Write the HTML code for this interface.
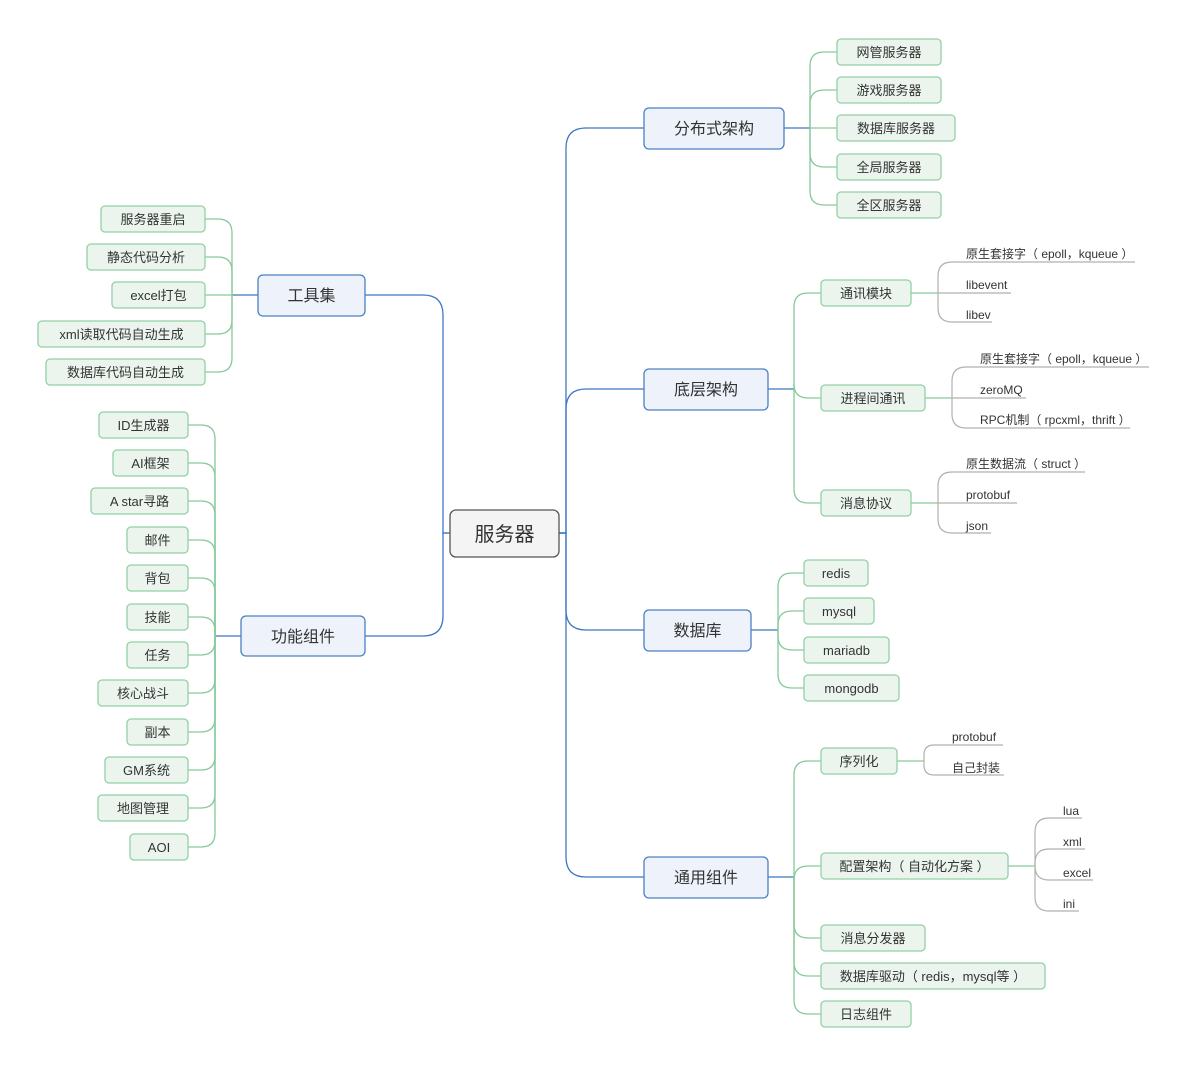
<!DOCTYPE html>
<html><head><meta charset="utf-8"><style>
html,body{margin:0;padding:0;background:#fff;}
svg{display:block;}
text{font-family:"Liberation Sans","Noto Sans CJK SC",sans-serif;fill:#333;}
.b{fill:none;stroke:#3d78bf;stroke-width:1.3;}
.g{fill:none;stroke:#86c99a;stroke-width:1.3;}
.y{fill:none;stroke:#b0b0b0;stroke-width:1.2;}
.mn{fill:#eef3fb;stroke:#4b80c2;stroke-width:1.3;}
.lf{fill:#ebf5ee;stroke:#93d0a4;stroke-width:1.3;}
.m{font-size:16px;text-anchor:middle;}
.l{font-size:13px;text-anchor:middle;}
.s{font-size:12px;}
</style></head><body>
<svg width="1187" height="1065" viewBox="0 0 1187 1065" xmlns="http://www.w3.org/2000/svg">
<!-- trunk -->
<path class="b" d="M559 533 H566 V148 Q566 128 586 128 H644"/>
<path class="b" d="M559 533 H566 V409 Q566 389 586 389 H644"/>
<path class="b" d="M559 533 H566 V610 Q566 630 586 630 H644"/>
<path class="b" d="M559 533 H566 V857 Q566 877 586 877 H644"/>
<path class="b" d="M450 533 H443 V315 Q443 295 423 295 H365"/>
<path class="b" d="M450 533 H443 V616 Q443 636 423 636 H365"/>
<!-- 分布式 -->
<path class="b" d="M784 128 H810"/>
<path class="g" d="M810 128 V66 Q810 52 824 52 H837"/>
<path class="g" d="M810 128 V104 Q810 90 824 90 H837"/>
<path class="g" d="M810 128 H837"/>
<path class="g" d="M810 128 V153 Q810 167 824 167 H837"/>
<path class="g" d="M810 128 V191 Q810 205 824 205 H837"/>
<!-- 底层 -->
<path class="b" d="M768 389 H794"/>
<path class="g" d="M794 389 V307 Q794 293 808 293 H821"/>
<path class="g" d="M794 389 V384 Q794 398 808 398 H821"/>
<path class="g" d="M794 389 V489 Q794 503 808 503 H821"/>
<!-- 数据库 -->
<path class="b" d="M751 630 H778"/>
<path class="g" d="M778 630 V587 Q778 573 792 573 H804"/>
<path class="g" d="M778 630 V625 Q778 611 792 611 H804"/>
<path class="g" d="M778 630 V636 Q778 650 792 650 H804"/>
<path class="g" d="M778 630 V674 Q778 688 792 688 H804"/>
<!-- 通用 -->
<path class="b" d="M768 877 H794"/>
<path class="g" d="M794 877 V775 Q794 761 808 761 H821"/>
<path class="g" d="M794 877 V880 Q794 866 808 866 H821"/>
<path class="g" d="M794 877 V924 Q794 938 808 938 H821"/>
<path class="g" d="M794 877 V962 Q794 976 808 976 H821"/>
<path class="g" d="M794 877 V1000 Q794 1014 808 1014 H821"/>
<!-- 工具集 -->
<path class="b" d="M258 295 H232"/>
<path class="g" d="M232 295 V233 Q232 219 218 219 H205"/>
<path class="g" d="M232 295 V271 Q232 257 218 257 H205"/>
<path class="g" d="M232 295 H205"/>
<path class="g" d="M232 295 V320 Q232 334 218 334 H205"/>
<path class="g" d="M232 295 V358 Q232 372 218 372 H205"/>
<!-- 功能组件 -->
<path class="b" d="M241 636 H215"/>
<path class="g" d="M215 636 V439 Q215 425 201 425 H188"/>
<path class="g" d="M215 636 V477 Q215 463 201 463 H188"/>
<path class="g" d="M215 636 V515 Q215 501 201 501 H188"/>
<path class="g" d="M215 636 V554 Q215 540 201 540 H188"/>
<path class="g" d="M215 636 V592 Q215 578 201 578 H188"/>
<path class="g" d="M215 636 V631 Q215 617 201 617 H188"/>
<path class="g" d="M215 636 V641 Q215 655 201 655 H188"/>
<path class="g" d="M215 636 V679 Q215 693 201 693 H188"/>
<path class="g" d="M215 636 V718 Q215 732 201 732 H188"/>
<path class="g" d="M215 636 V756 Q215 770 201 770 H188"/>
<path class="g" d="M215 636 V794 Q215 808 201 808 H188"/>
<path class="g" d="M215 636 V833 Q215 847 201 847 H188"/>
<!-- gray brackets -->
<path class="g" d="M911 293 H938"/><path class="g" d="M925 398 H952"/><path class="g" d="M911 503 H938"/>
<path class="g" d="M897 761 H924"/><path class="g" d="M1008 866 H1035"/>
<path class="y" d="M938 293 V276 Q938 262 952 262 H1135"/>
<path class="y" d="M938 293 H1011"/>
<path class="y" d="M938 293 V308 Q938 322 952 322 H992"/>
<path class="y" d="M952 398 V381 Q952 367 966 367 H1149"/>
<path class="y" d="M952 398 H1026"/>
<path class="y" d="M952 398 V414 Q952 428 966 428 H1130"/>
<path class="y" d="M938 503 V486 Q938 472 952 472 H1085"/>
<path class="y" d="M938 503 H1017"/>
<path class="y" d="M938 503 V519 Q938 533 952 533 H991"/>
<path class="y" d="M924 761 V755 Q924 745 934 745 H1003"/>
<path class="y" d="M924 761 V765 Q924 775 934 775 H1004"/>
<path class="y" d="M1035 866 V832 Q1035 818 1049 818 H1082"/>
<path class="y" d="M1035 866 V863 Q1035 849 1049 849 H1085"/>
<path class="y" d="M1035 866 Q1035 880 1049 880 H1093"/>
<path class="y" d="M1035 866 V897 Q1035 911 1049 911 H1079"/>
<text class="s" x="966" y="258">原生套接字（ epoll，kqueue ）</text>
<text class="s" x="966" y="289">libevent</text>
<text class="s" x="966" y="319">libev</text>
<text class="s" x="980" y="363">原生套接字（ epoll，kqueue ）</text>
<text class="s" x="980" y="394">zeroMQ</text>
<text class="s" x="980" y="424">RPC机制（ rpcxml，thrift ）</text>
<text class="s" x="966" y="468">原生数据流（ struct ）</text>
<text class="s" x="966" y="499">protobuf</text>
<text class="s" x="966" y="530">json</text>
<text class="s" x="952" y="741">protobuf</text>
<text class="s" x="952" y="772">自己封装</text>
<text class="s" x="1063" y="815">lua</text>
<text class="s" x="1063" y="846">xml</text>
<text class="s" x="1063" y="877">excel</text>
<text class="s" x="1063" y="908">ini</text>
<!-- center -->
<rect x="450" y="510" width="109" height="47" rx="6" fill="#f4f4f4" stroke="#555" stroke-width="1.3"/>
<text x="504.5" y="541" font-size="20" text-anchor="middle">服务器</text>
<!-- main -->
<rect class="mn" x="644" y="108" width="140" height="41" rx="5"/><text class="m" x="714" y="134">分布式架构</text>
<rect class="mn" x="644" y="369" width="124" height="41" rx="5"/><text class="m" x="706" y="395">底层架构</text>
<rect class="mn" x="644" y="610" width="107" height="41" rx="5"/><text class="m" x="697.5" y="636">数据库</text>
<rect class="mn" x="644" y="857" width="124" height="41" rx="5"/><text class="m" x="706" y="883">通用组件</text>
<rect class="mn" x="258" y="275" width="107" height="41" rx="5"/><text class="m" x="311.5" y="301">工具集</text>
<rect class="mn" x="241" y="616" width="124" height="40" rx="5"/><text class="m" x="303" y="642">功能组件</text>
<!-- leaves right -->
<rect class="lf" x="837" y="39" width="104" height="26" rx="4"/><text class="l" x="889" y="57">网管服务器</text>
<rect class="lf" x="837" y="77" width="104" height="26" rx="4"/><text class="l" x="889" y="95">游戏服务器</text>
<rect class="lf" x="837" y="115" width="118" height="26" rx="4"/><text class="l" x="896" y="133">数据库服务器</text>
<rect class="lf" x="837" y="154" width="104" height="26" rx="4"/><text class="l" x="889" y="172">全局服务器</text>
<rect class="lf" x="837" y="192" width="104" height="26" rx="4"/><text class="l" x="889" y="210">全区服务器</text>
<rect class="lf" x="821" y="280" width="90" height="26" rx="4"/><text class="l" x="866" y="298">通讯模块</text>
<rect class="lf" x="821" y="385" width="104" height="26" rx="4"/><text class="l" x="873" y="403">进程间通讯</text>
<rect class="lf" x="821" y="490" width="90" height="26" rx="4"/><text class="l" x="866" y="508">消息协议</text>
<rect class="lf" x="804" y="560" width="64" height="26" rx="4"/><text class="l" x="836" y="578">redis</text>
<rect class="lf" x="804" y="598" width="70" height="26" rx="4"/><text class="l" x="839" y="616">mysql</text>
<rect class="lf" x="804" y="637" width="85" height="26" rx="4"/><text class="l" x="846.5" y="655">mariadb</text>
<rect class="lf" x="804" y="675" width="95" height="26" rx="4"/><text class="l" x="851.5" y="693">mongodb</text>
<rect class="lf" x="821" y="748" width="76" height="26" rx="4"/><text class="l" x="859" y="766">序列化</text>
<rect class="lf" x="821" y="853" width="187" height="26" rx="4"/><text class="l" x="914.5" y="871">配置架构（ 自动化方案 ）</text>
<rect class="lf" x="821" y="925" width="104" height="26" rx="4"/><text class="l" x="873" y="943">消息分发器</text>
<rect class="lf" x="821" y="963" width="224" height="26" rx="4"/><text class="l" x="933" y="981">数据库驱动（ redis，mysql等 ）</text>
<rect class="lf" x="821" y="1001" width="90" height="26" rx="4"/><text class="l" x="866" y="1019">日志组件</text>
<!-- leaves left -->
<rect class="lf" x="101" y="206" width="104" height="26" rx="4"/><text class="l" x="153" y="224">服务器重启</text>
<rect class="lf" x="87" y="244" width="118" height="26" rx="4"/><text class="l" x="146" y="262">静态代码分析</text>
<rect class="lf" x="112" y="282" width="93" height="26" rx="4"/><text class="l" x="158.5" y="300">excel打包</text>
<rect class="lf" x="38" y="321" width="167" height="26" rx="4"/><text class="l" x="121.5" y="339">xml读取代码自动生成</text>
<rect class="lf" x="46" y="359" width="159" height="26" rx="4"/><text class="l" x="125.5" y="377">数据库代码自动生成</text>
<rect class="lf" x="99" y="412" width="89" height="26" rx="4"/><text class="l" x="143.5" y="430">ID生成器</text>
<rect class="lf" x="113" y="450" width="75" height="26" rx="4"/><text class="l" x="150.5" y="468">AI框架</text>
<rect class="lf" x="91" y="488" width="97" height="26" rx="4"/><text class="l" x="139.5" y="506">A star寻路</text>
<rect class="lf" x="127" y="527" width="61" height="26" rx="4"/><text class="l" x="157.5" y="545">邮件</text>
<rect class="lf" x="127" y="565" width="61" height="26" rx="4"/><text class="l" x="157.5" y="583">背包</text>
<rect class="lf" x="127" y="604" width="61" height="26" rx="4"/><text class="l" x="157.5" y="622">技能</text>
<rect class="lf" x="127" y="642" width="61" height="26" rx="4"/><text class="l" x="157.5" y="660">任务</text>
<rect class="lf" x="98" y="680" width="90" height="26" rx="4"/><text class="l" x="143" y="698">核心战斗</text>
<rect class="lf" x="127" y="719" width="61" height="26" rx="4"/><text class="l" x="157.5" y="737">副本</text>
<rect class="lf" x="105" y="757" width="83" height="26" rx="4"/><text class="l" x="146.5" y="775">GM系统</text>
<rect class="lf" x="98" y="795" width="90" height="26" rx="4"/><text class="l" x="143" y="813">地图管理</text>
<rect class="lf" x="130" y="834" width="58" height="26" rx="4"/><text class="l" x="159" y="852">AOI</text>
</svg>
</body></html>
